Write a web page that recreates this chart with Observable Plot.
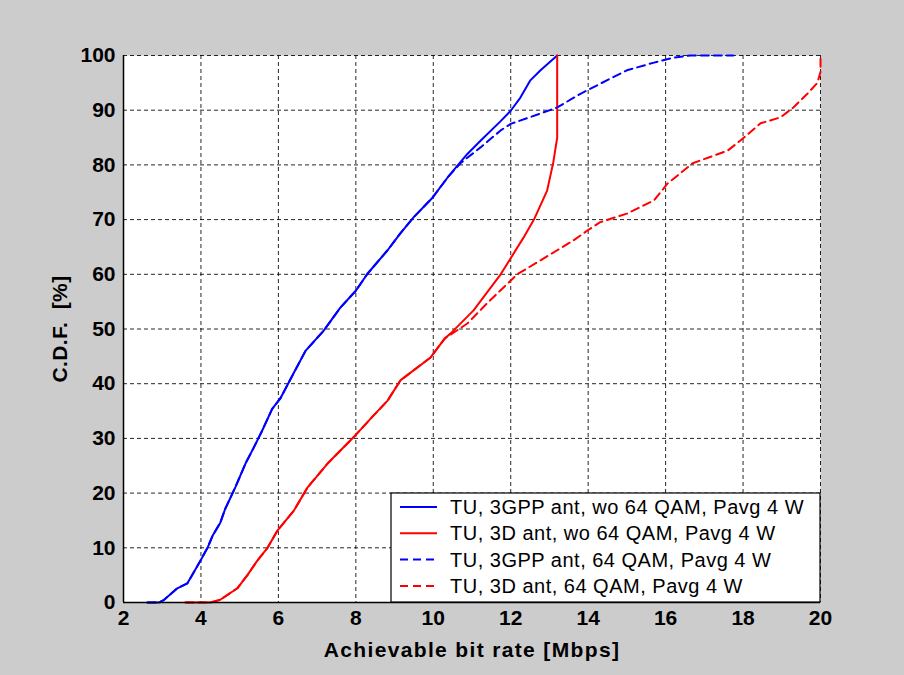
<!DOCTYPE html>
<html>
<head>
<meta charset="utf-8">
<script src="https://cdn.jsdelivr.net/npm/d3@7"></script>
<script src="https://cdn.jsdelivr.net/npm/@observablehq/plot@0.6"></script>
<style>
  html, body { margin: 0; padding: 0; background: #cccccc; }
  #chart { width: 904px; height: 675px; }
</style>
</head>
<body>
<div id="chart"></div>
<script>
const xTicks = [2, 4, 6, 8, 10, 12, 14, 16, 18, 20];
const yTicks = [0, 10, 20, 30, 40, 50, 60, 70, 80, 90, 100];
const xTitle = "Achievable bit rate [Mbps]";
const yTitle = "C.D.F.\u00a0\u00a0[%]";
const seriesNames = [
  "TU, 3GPP ant, wo 64 QAM, Pavg 4 W",
  "TU, 3D ant, wo 64 QAM, Pavg 4 W",
  "TU, 3GPP ant, 64 QAM, Pavg 4 W",
  "TU, 3D ant, 64 QAM, Pavg 4 W"
];
const seriesColors = ["#0000ff", "#ff0000", "#0000ff", "#ff0000"];
const seriesDashed = [false, false, true, true];

// shared lower part of blue curves
const blueLow = [
  [2.62,0],[2.92,0],[3.05,0.5],[3.39,2.6],[3.65,3.5],[3.99,7.7],[4.17,10],[4.3,12.2],
  [4.5,14.6],[4.62,17],[4.89,21.1],[5.15,25.4],[5.37,28.4],[5.58,31.4],[5.84,35.4],
  [6.05,37.3],[6.4,42],[6.7,46],[7.17,49.7],[7.6,53.9],[8.0,57],[8.3,60.1],[8.82,64.4],
  [9.15,67.5],[9.49,70.4],[9.98,74],[10.37,77.7]
];
const blueSolidHigh = [
  [10.88,82],[11.22,84.4],[11.74,88],[12.0,89.9],[12.25,92.3],[12.5,95.4],[12.77,97.3],[13.2,100]
];
const blueDashedHigh = [
  [10.7,80.3],[11.22,83.2],[11.74,86.3],[12.0,87.5],[12.77,89.4],[13.2,90.5],[13.8,93],
  [14.3,94.8],[15.0,97.3],[15.7,98.7],[16.2,99.6],[16.64,100],[17.75,100]
];
// shared lower part of red curves
const redLow = [
  [3.6,0],[4.25,0],[4.5,0.5],[4.94,2.6],[5.2,5],[5.46,7.7],[5.72,10],[5.98,13.2],[6.4,16.8],
  [6.75,21],[7.27,25.4],[7.94,30.2],[8.46,34.2],[8.82,36.9],[9.15,40.6],[9.93,44.8],[10.3,48.3]
];
const redSolidHigh = [
  [10.45,49.2],[11.04,53.4],[11.74,60],[12.33,66.7],[12.6,70],[12.94,75.3],[13.1,80.5],
  [13.2,85],[13.2,100]
];
const redDashedHigh = [
  [10.88,51],[11.43,55],[12.17,60],[13.2,64.4],[13.62,66.2],[13.98,68],[14.3,69.5],[15.0,71.1],
  [15.7,73.5],[16.05,76.6],[16.7,80.3],[17.6,82.6],[17.94,84.5],[18.45,87.6],[18.97,88.7],
  [19.3,90.5],[19.66,93],[19.92,95],[20,97],[20,100]
];

const series = [
  blueLow.concat(blueSolidHigh),
  redLow.concat(redSolidHigh),
  blueLow.concat(blueDashedHigh),
  redLow.concat(redDashedHigh)
];

const lineMarks = series.map((pts, i) => Plot.line(pts, {
  x: d => d[0], y: d => d[1],
  stroke: seriesColors[i], strokeWidth: 2,
  strokeDasharray: seriesDashed[i] ? "8,5" : null
}));

const chart = Plot.plot({
  width: 904, height: 675,
  marginLeft: 123, marginRight: 84, marginTop: 55, marginBottom: 73,
  style: { background: "#cccccc", fontFamily: "'Liberation Sans', Arial, sans-serif", fontSize: "21px", fontWeight: "bold", color: "black" },
  x: { domain: [2, 20] },
  y: { domain: [0, 100] },
  marks: [
    Plot.frame({ fill: "white", stroke: null }),
    Plot.gridX(xTicks, { stroke: "black", strokeOpacity: 0.85, strokeDasharray: "4,3", strokeWidth: 1 }),
    Plot.gridY(yTicks, { stroke: "black", strokeOpacity: 0.85, strokeDasharray: "4,3", strokeWidth: 1 }),
    ...lineMarks,
    Plot.ruleX([2], { stroke: "black", strokeWidth: 1.5 }),
    Plot.ruleY([0], { stroke: "black", strokeWidth: 1.5 }),
    Plot.axisX(xTicks, { tickSize: 0, tickPadding: 8, label: null, fontSize: 21, fontWeight: "bold" }),
    Plot.axisY(yTicks, { tickSize: 0, tickPadding: 8, label: null, fontSize: 21, fontWeight: "bold" }),
    Plot.text([xTitle], { text: d => d, frameAnchor: "bottom", dy: 48, textAnchor: "middle", lineAnchor: "middle", fontSize: 21, fontWeight: "bold" }),
    Plot.text([yTitle], { text: d => d, frameAnchor: "left", dx: -63, rotate: -90, textAnchor: "middle", lineAnchor: "middle", fontSize: 21, fontWeight: "bold" })
  ]
});

document.getElementById("chart").appendChild(chart);

const svg = d3.select(chart);
// widen axis titles a little, like the original rendering
svg.selectAll("text").each(function () {
  const t = this.textContent;
  if (t === xTitle) this.setAttribute("letter-spacing", "1.35");
  if (t === yTitle) this.setAttribute("letter-spacing", "0.4");
});

// legend inside the plot area, lower right
const xs = chart.scale("x"), ys = chart.scale("y");
const lx = 391, ly = 493, lw = xs.apply(20) - 391, lh = ys.apply(0) - 493;
const g = svg.append("g");
g.append("rect").attr("x", lx).attr("y", ly).attr("width", lw).attr("height", lh)
  .attr("fill", "white").attr("stroke", "black").attr("stroke-width", 1.2);
seriesNames.forEach((name, i) => {
  const cy = 507 + i * 26.3;
  g.append("line").attr("x1", 400).attr("x2", 437).attr("y1", cy).attr("y2", cy)
    .attr("stroke", seriesColors[i]).attr("stroke-width", 2)
    .attr("stroke-dasharray", seriesDashed[i] ? "8,5" : null);
  g.append("text").attr("x", 450).attr("y", cy).attr("dy", "0.35em")
    .attr("text-anchor", "start")
    .attr("font-family", "'Liberation Sans', Arial, sans-serif").attr("font-size", 20)
    .attr("letter-spacing", "0.5")
    .attr("font-weight", "normal").attr("fill", "black").text(name);
});
</script>
</body>
</html>
